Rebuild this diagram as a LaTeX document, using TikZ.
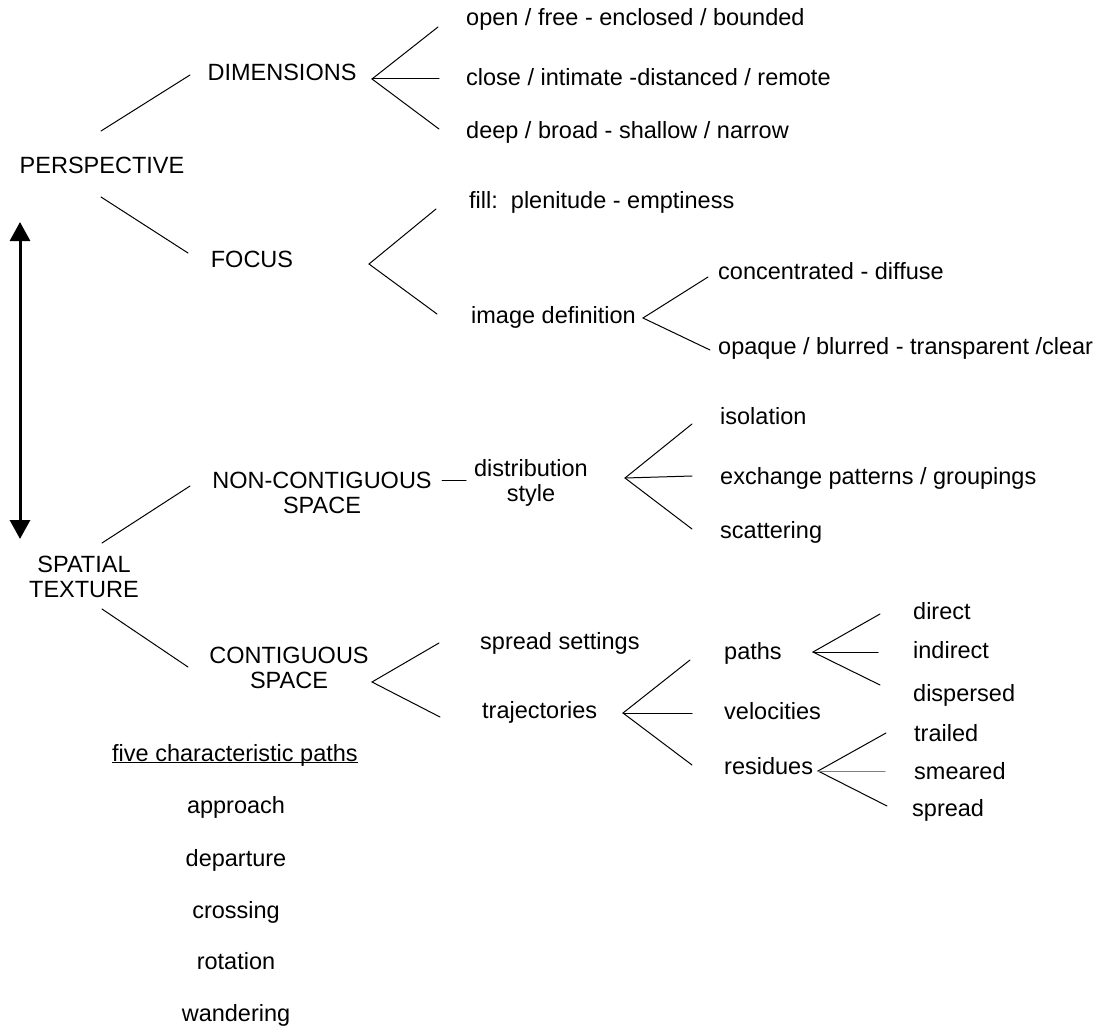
\documentclass[tikz,border=0pt]{standalone}
\usepackage{fontspec}
\setmainfont{Liberation Sans}
\usetikzlibrary{arrows.meta}
\tikzset{
  lbl/.style={font=\fontsize{23.5pt}{25pt}\selectfont, inner sep=0pt, text height=17pt, text depth=5pt},
  lbl2/.style={font=\fontsize{23.5pt}{25pt}\selectfont, inner sep=0pt, align=center},
  lw/.style={lbl, anchor=west},
  conn/.style={line width=1pt, line cap=round},
  bigarrow/.style={line width=3pt, {Triangle[width=20pt,length=19pt]}-{Triangle[width=20pt,length=19pt]}}
}
\begin{document}
\begin{tikzpicture}[x=1pt,y=-1pt]
\useasboundingbox (0,0) rectangle (1103,1030);
% main nodes
\node[lbl] (persp) at (102,168) {PERSPECTIVE};
\node[lbl] (dim) at (282,75) {DIMENSIONS};
\node[lbl] (focus) at (252,261) {FOCUS};
\node[lw] (open) at (466,20) {open / free - enclosed / bounded};
\node[lw] (close) at (466,80) {close / intimate -distanced / remote};
\node[lw] (deep) at (466,133) {deep / broad - shallow / narrow};
\node[lw] (fill) at (469,202) {fill:\ \ plenitude - emptiness};
\node[lw] (imgdef) at (471,317) {image definition};
\node[lw] (conc) at (718,273) {concentrated - diffuse};
\node[lw] (opaque) at (718,348) {opaque / blurred - transparent /clear};
\node[lbl2] (st) at (84,577) {SPATIAL\\TEXTURE};
\node[lbl2] (noncont) at (322,493) {NON-CONTIGUOUS\\SPACE};
\node[lbl2] (dist) at (531,483) {distribution\\style};
\node[lw] (iso) at (720,418) {isolation};
\node[lw] (exch) at (720,478) {exchange patterns / groupings};
\node[lw] (scat) at (720,532) {scattering};
\node[lbl2] (contig) at (289,668) {CONTIGUOUS\\SPACE};
\node[lw] (spreadset) at (480,643) {spread settings};
\node[lw] (traj) at (482,712) {trajectories};
\node[lw] (paths) at (724,653) {paths};
\node[lw] (vel) at (724,713) {velocities};
\node[lw] (res) at (724,768) {residues};
\node[lw] (direct) at (913,613) {direct};
\node[lw] (indirect) at (913,652) {indirect};
\node[lw] (dispersed) at (913,695) {dispersed};
\node[lw] (trailed) at (914,735) {trailed};
\node[lw] (smeared) at (914,773) {smeared};
\node[lw] (spread) at (912,810) {spread};
\node[lw] (fcp) at (112,755) {five characteristic paths};
\draw[line width=1pt] ([yshift=-1.2pt]fcp.base west) -- ([yshift=-1.2pt]fcp.base east);
\node[lbl] (approach) at (236,807) {approach};
\node[lbl] (departure) at (236,860) {departure};
\node[lbl] (crossing) at (236,912) {crossing};
\node[lbl] (rotation) at (236,963) {rotation};
\node[lbl] (wandering) at (236,1015) {wandering};

% arrow
\coordinate (aTop) at (20,222);
\coordinate (aBot) at (20,539);
\draw[bigarrow] (aTop) -- (aBot);

% connector end points
\coordinate (pd1) at (101,131); \coordinate (pd2) at (190,75);
\coordinate (pf1) at (101,197); \coordinate (pf2) at (188,253);
\coordinate (dA) at (372,79); \coordinate (d1) at (438,27); \coordinate (d2) at (439,79); \coordinate (d3) at (439,129);
\coordinate (fA) at (369,264); \coordinate (f1) at (436,209); \coordinate (f2) at (437,314);
\coordinate (iA) at (643,318); \coordinate (i1) at (708,277); \coordinate (i2) at (710,350);
\coordinate (sn1) at (102,543); \coordinate (sn2) at (190,486);
\coordinate (sc1) at (102,609); \coordinate (sc2) at (188,667);
\coordinate (nd1) at (442,480); \coordinate (nd2) at (466,480);
\coordinate (sA) at (625,478); \coordinate (s1) at (692,424); \coordinate (s2) at (692,476); \coordinate (s3) at (692,529);
\coordinate (cA) at (372,682); \coordinate (c1) at (439,643); \coordinate (c2) at (440,717);
\coordinate (tA) at (623,713); \coordinate (t1) at (690,660); \coordinate (t2) at (692,713); \coordinate (t3) at (692,765);
\coordinate (hA) at (813,652); \coordinate (h1) at (880,614); \coordinate (h2) at (878,652); \coordinate (h3) at (880,685);
\coordinate (rA) at (818,771); \coordinate (r1) at (886,733); \coordinate (r2) at (885,771); \coordinate (r3) at (887,806);

\draw[conn] (pd1) -- (pd2);
\draw[conn] (pf1) -- (pf2);
\draw[conn] (d1) -- (dA) -- (d3); \draw[conn] (dA) -- (d2);
\draw[conn] (f1) -- (fA) -- (f2);
\draw[conn] (i1) -- (iA) -- (i2);
\draw[conn] (sn1) -- (sn2);
\draw[conn] (sc1) -- (sc2);
\draw[conn] (nd1) -- (nd2);
\draw[conn] (s1) -- (sA) -- (s3); \draw[conn] (sA) -- (s2);
\draw[conn] (c1) -- (cA) -- (c2);
\draw[conn] (t1) -- (tA) -- (t3); \draw[conn] (tA) -- (t2);
\draw[conn] (h1) -- (hA) -- (h3); \draw[conn] (hA) -- (h2);
\draw[conn] (r1) -- (rA) -- (r3); \draw[conn, gray] (rA) -- (r2);
\end{tikzpicture}
\end{document}
